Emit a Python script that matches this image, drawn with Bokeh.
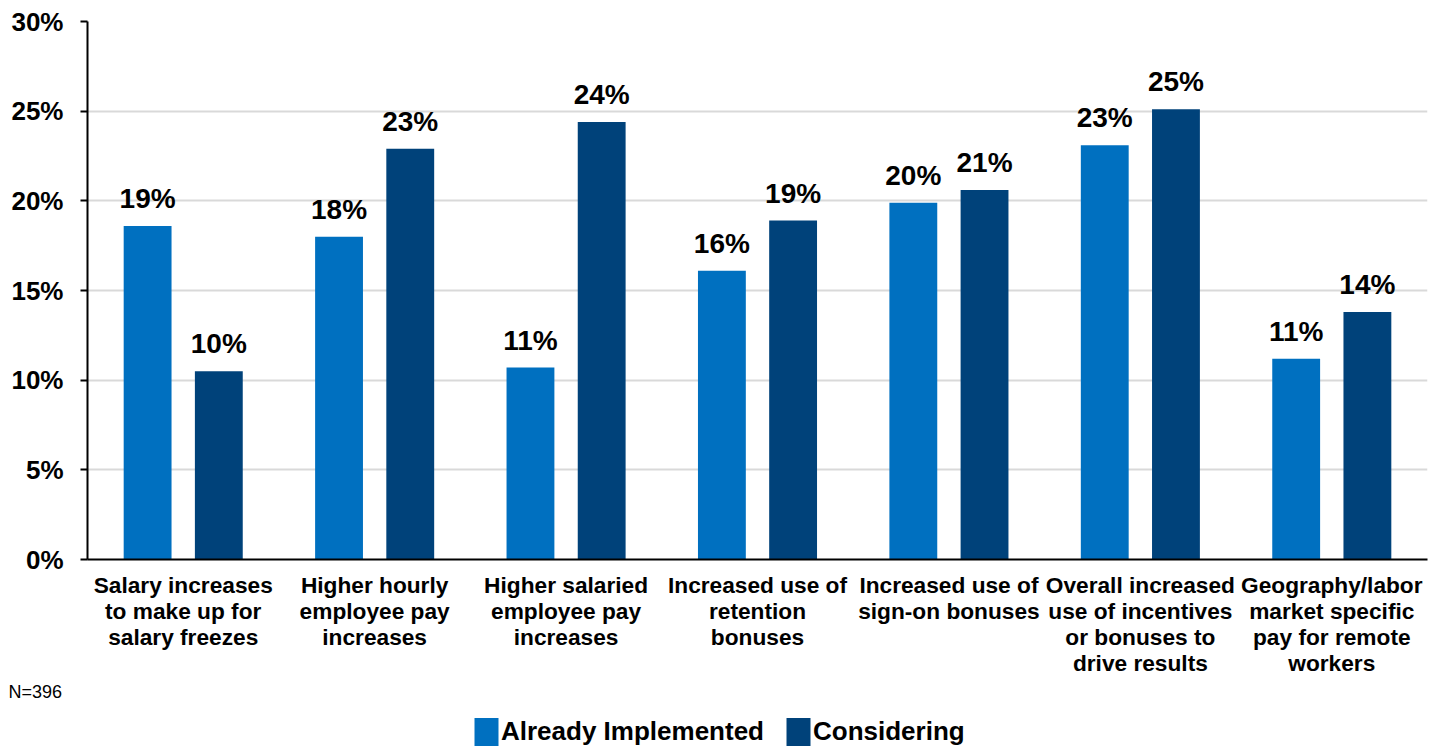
from bokeh.plotting import figure
from bokeh.core.properties import value
from bokeh.layouts import column
from bokeh.models import (ColumnDataSource, FactorRange, FixedTicker, PrintfTickFormatter,
                          LabelSet, Legend, LegendItem, Title, Range1d)
from bokeh.transform import dodge
from bokeh.embed import file_html
from bokeh.resources import INLINE

# Survey responses (% of respondents), N=396
categories = [
    "Salary increases\nto make up for\nsalary freezes",
    "Higher hourly\nemployee pay\nincreases",
    "Higher salaried\nemployee pay\nincreases",
    "Increased use of\nretention\nbonuses",
    "Increased use of\nsign-on bonuses",
    "Overall increased\nuse of incentives\nor bonuses to\ndrive results",
    "Geography/labor\nmarket specific\npay for remote\nworkers",
]
already_implemented = [18.6, 18.0, 10.7, 16.1, 19.9, 23.1, 11.2]
considering = [10.5, 22.9, 24.4, 18.9, 20.6, 25.1, 13.8]
series_names = ["Already Implemented", "Considering"]
y_ticks = [0, 5, 10, 15, 20, 25, 30]

FONT = "Liberation Sans"
LIGHT = "#0070C0"
DARK = "#00427A"
W = 1439
MAIN_H = 701
LEGEND_H = 46

src = ColumnDataSource(dict(
    cat=categories,
    a=already_implemented,
    c=considering,
    a_lbl=[f"{round(v)}%" for v in already_implemented],
    c_lbl=[f"{round(v)}%" for v in considering],
))

p = figure(
    x_range=FactorRange(*categories, range_padding=0),
    y_range=Range1d(0, 30),
    width=W, height=MAIN_H,
    output_backend="svg", toolbar_location=None,
    min_border_left=87, min_border_right=12, min_border_top=21, min_border_bottom=141,
)
p.outline_line_color = None

p.vbar(x=dodge("cat", -0.186, range=p.x_range), top="a", width=0.25,
       source=src, fill_color=LIGHT, line_color=None)
p.vbar(x=dodge("cat", 0.186, range=p.x_range), top="c", width=0.25,
       source=src, fill_color=DARK, line_color=None)

for fld, top, off in (("a_lbl", "a", -0.186), ("c_lbl", "c", 0.186)):
    p.add_layout(LabelSet(
        x=dodge("cat", off, range=p.x_range), y=top, text=fld, source=src,
        y_offset=18, text_align="center", text_baseline="alphabetic",
        text_font=value(FONT), text_font_style="bold", text_font_size="28px",
        text_color="black",
    ))

# axes
p.xgrid.grid_line_color = None
p.ygrid.grid_line_color = "#D9D9D9"
p.ygrid.grid_line_width = 2
p.yaxis.ticker = FixedTicker(ticks=y_ticks)
p.yaxis.formatter = PrintfTickFormatter(format="%d%%")
p.yaxis.axis_line_width = 2
p.yaxis.axis_line_color = "black"
p.yaxis.major_tick_line_color = "black"
p.yaxis.major_tick_line_width = 2
p.yaxis.major_tick_out = 7
p.yaxis.major_tick_in = 0
p.yaxis.minor_tick_line_color = None
p.yaxis.major_label_standoff = 17
p.yaxis.major_label_text_font = FONT
p.yaxis.major_label_text_font_style = "bold"
p.yaxis.major_label_text_font_size = "26px"
p.yaxis.major_label_text_color = "black"

p.xaxis.axis_line_width = 2
p.xaxis.axis_line_color = "black"
p.xaxis.major_tick_line_color = None
p.xaxis.minor_tick_line_color = None
p.xaxis.major_label_standoff = 6
p.xaxis.major_label_text_font = FONT
p.xaxis.major_label_text_font_style = "bold"
p.xaxis.major_label_text_font_size = "22.7px"
p.xaxis.major_label_text_line_height = 1.01
p.xaxis.major_label_text_color = "black"

note = Title(text="N=396", align="left", offset=-79, text_font=FONT,
             text_font_style="normal", text_font_size="18px", text_color="black",
             standoff=0)
p.add_layout(note, "below")

# legend strip underneath the chart (its renderers are hidden; only the key is shown)
lg = figure(
    x_range=FactorRange(*categories), y_range=Range1d(-2, -1),
    width=W, height=LEGEND_H, output_backend="svg", toolbar_location=None,
    x_axis_location=None, y_axis_location=None, min_border=0,
)
lg.outline_line_color = None
lg.grid.grid_line_color = None
la = lg.vbar(x="cat", top="a", width=0.25, source=src, fill_color=LIGHT, line_color=None,
             visible=False)
lc = lg.vbar(x="cat", top="c", width=0.25, source=src, fill_color=DARK, line_color=None,
             visible=False)

legend = Legend(items=[
    LegendItem(label=series_names[0], renderers=[la]),
    LegendItem(label=series_names[1], renderers=[lc]),
], orientation="horizontal", location=(384, -2),
    glyph_width=30, glyph_height=35, label_standoff=0, spacing=19,
    label_text_font=FONT, label_text_font_style="bold", label_text_font_size="26px",
    label_text_color="black", border_line_color=None, background_fill_alpha=0,
    inactive_fill_alpha=0, padding=0, margin=0)
lg.add_layout(legend, "center")

layout = column(p, lg, spacing=0)
open("out.html", "w").write(file_html(layout, INLINE))
